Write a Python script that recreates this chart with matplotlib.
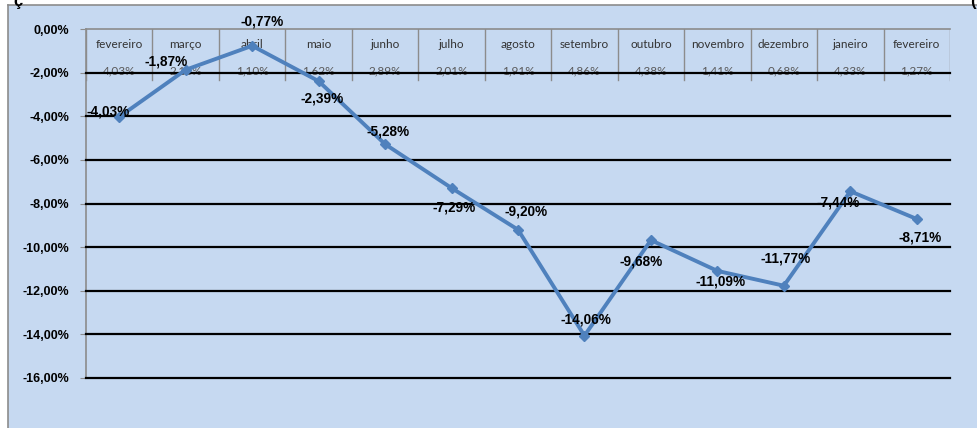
import numpy as np
import matplotlib.pyplot as plt

months = ['fevereiro', 'março', 'abril', 'maio', 'junho', 'julho', 'agosto',
          'setembro', 'outubro', 'novembro', 'dezembro', 'janeiro', 'fevereiro']
monthly = ['4,03%', '2,16%', '1,10%', '1,62%', '2,89%', '2,01%', '1,91%',
           '4,86%', '4,38%', '1,41%', '0,68%', '4,33%', '1,27%']
accum = [-4.03, -1.87, -0.77, -2.39, -5.28, -7.29, -9.20,
         -14.06, -9.68, -11.09, -11.77, -7.44, -8.71]
# label offsets in pixels (dx, dy)
offs = [(-11, 5), (-20, 8), (10, 24), (4, -17), (3, 13), (3, -19), (8, 18),
        (1, 16), (-10, -21), (3, -11), (2, 27), (-12, -11), (3, -19)]

bg = '#c6d9f1'
line_col = '#4f81bd'
W, H = 978, 428

fig = plt.figure(figsize=(W / 100, H / 100), dpi=100)
fig.patch.set_facecolor('white')

# chart area background with gray frame
frame = fig.add_axes([8 / W, 0, 1 - 8 / W, (H - 5) / H])
frame.set_facecolor(bg)
frame.set_xticks([]); frame.set_yticks([])
for s in ['right', 'bottom']:
    frame.spines[s].set_visible(False)
for s in ['left', 'top']:
    frame.spines[s].set_color('#8c8c8c')
    frame.spines[s].set_linewidth(1.2)

# cropped title fragments at the top
fig.text(13 / W, 1 + 6 / H, 'ç', fontsize=12, fontweight='bold', va='top',
         family='Liberation Sans')
fig.text(970 / W, 1 + 6 / H, '(', fontsize=12, fontweight='bold', va='top',
         family='Liberation Sans')

ax = fig.add_axes([86 / W, (H - 378) / H, 864 / W, (378 - 29) / H])
ax.set_facecolor('none')
n = len(months)
x = np.arange(n)
ax.set_xlim(-0.5, n - 0.5)
ax.set_ylim(-16, 0)

yt = np.arange(-16, 1, 2)
ax.set_yticks(yt)
ax.set_yticklabels([f'{v:.2f}%'.replace('.', ',') for v in yt],
                   fontsize=9, fontweight='bold', family='Liberation Sans')
ax.tick_params(axis='y', length=4, color='#8c8c8c', pad=8)
ax.set_xticks([])
for s in ['right', 'bottom', 'top']:
    ax.spines[s].set_visible(False)
ax.spines['left'].set_color('#8c8c8c')
ax.spines['left'].set_linewidth(1.2)

# horizontal gridlines
for v in yt[:-1]:
    ax.axhline(v, color='black', lw=1.6, zorder=3, clip_on=False)

# data table at the top
tab_bot = -2.34
ax.axhline(0, color='#8c8c8c', lw=1.2, zorder=2, clip_on=False)
for i in range(n + 1):
    ax.plot([i - 0.5, i - 0.5], [0, tab_bot], color='#8c8c8c', lw=1.0, zorder=2)
for i in range(n):
    ax.text(i, -0.73, months[i], ha='center', va='center', fontsize=8.5,
            color='#333333', family='Lato', zorder=2)
    ax.text(i, -1.93, monthly[i], ha='center', va='center', fontsize=8.5,
            color='#595959', family='Lato', zorder=2)

ax.plot(x, accum, color=line_col, lw=2.8, marker='D', ms=5, zorder=5)

for xi, yi, (dx, dy) in zip(x, accum, offs):
    ax.annotate(f'{yi:.2f}%'.replace('.', ','), (xi, yi), xytext=(dx, dy),
                textcoords='offset pixels', ha='center', va='center',
                fontsize=9.8, fontweight='bold', family='Liberation Sans',
                zorder=6, annotation_clip=False)

fig.savefig('out.png', dpi=100, facecolor=fig.get_facecolor())
